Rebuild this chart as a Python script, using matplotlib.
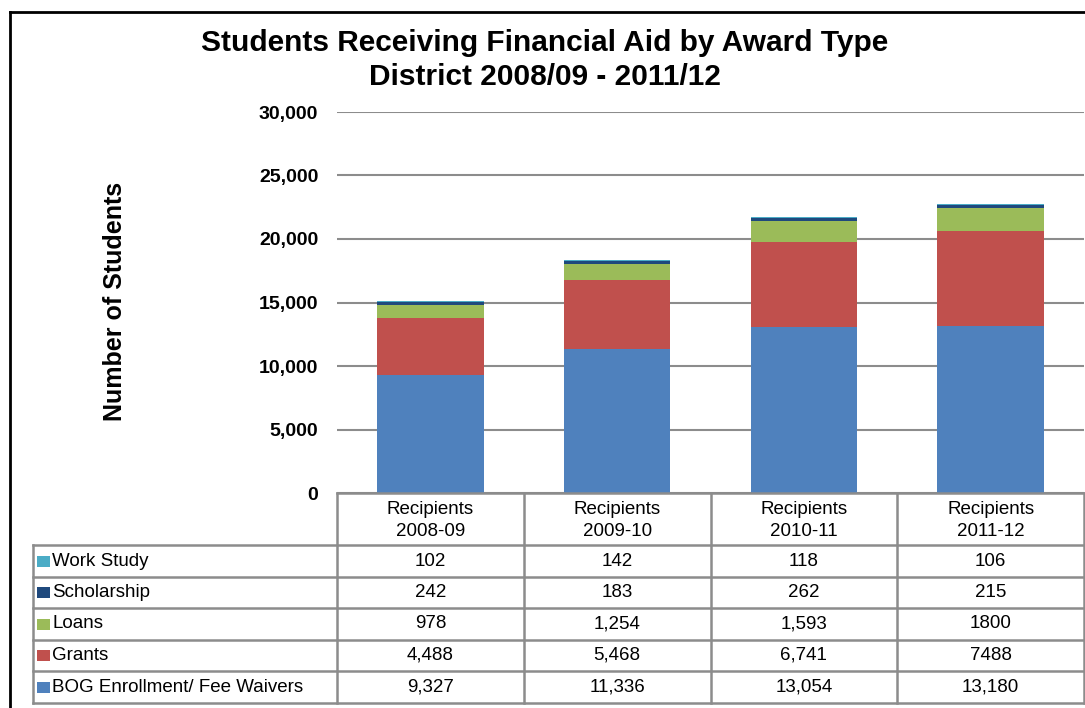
import matplotlib
matplotlib.use("Agg")
import matplotlib.pyplot as plt
from matplotlib.patches import Rectangle
import numpy as np

plt.rcParams['font.family'] = ['Liberation Sans', 'DejaVu Sans']

categories = ["Recipients\n2008-09", "Recipients\n2009-10", "Recipients\n2010-11", "Recipients\n2011-12"]
series_names = ["Work Study", "Scholarship", "Loans", "Grants", "BOG Enrollment/ Fee Waivers"]
work_study = [102, 142, 118, 106]
scholarship = [242, 183, 262, 215]
loans = [978, 1254, 1593, 1800]
grants = [4488, 5468, 6741, 7488]
bog = [9327, 11336, 13054, 13180]
yticks = [0, 5000, 10000, 15000, 20000, 25000, 30000]
# cells shown without thousands separator in the source table (row, col)
no_comma = {(2, 3), (3, 3)}

colors = {"Work Study": "#4BACC6", "Scholarship": "#1F497D", "Loans": "#9BBB59",
          "Grants": "#C0504D", "BOG Enrollment/ Fee Waivers": "#4F81BD"}
series_vals = {"Work Study": work_study, "Scholarship": scholarship, "Loans": loans,
               "Grants": grants, "BOG Enrollment/ Fee Waivers": bog}

W, H = 1085, 708
fig = plt.figure(figsize=(W / 100, H / 100), dpi=100)

# pixel geometry
ax_l, ax_r, ax_t, ax_b = 337, 1084, 112, 493
ax = fig.add_axes([ax_l / W, 1 - ax_b / H, (ax_r - ax_l) / W, (ax_b - ax_t) / H])

x = np.arange(len(categories))
bottom = np.zeros(len(categories))
for name in ["BOG Enrollment/ Fee Waivers", "Grants", "Loans", "Scholarship", "Work Study"]:
    vals = np.array(series_vals[name], dtype=float)
    ax.bar(x, vals, bottom=bottom, width=0.57, color=colors[name], zorder=3, linewidth=0)
    bottom += vals

ax.set_xlim(-0.5, len(categories) - 0.5)
ax.set_ylim(0, 30000)
ax.set_yticks(yticks)
ax.set_yticklabels([f"{v:,}" for v in yticks], fontsize=14, fontweight='bold')
ax.tick_params(axis='y', length=0, pad=13.5)
ax.set_xticks([])
ax.grid(axis='y', color='#8c8c8c', linewidth=1.5, zorder=0)
for s in ax.spines.values():
    s.set_visible(False)

# overlay in pixel coords
ov = fig.add_axes([0, 0, 1, 1], zorder=5)
ov.set_xlim(0, W)
ov.set_ylim(H, 0)
ov.axis('off')

# y label
ov.text(115, 301, "Number of Students", rotation=90, ha='center', va='center',
        fontsize=18, fontweight='bold')

# outer frame
ov.plot([10, 10], [12, H + 5], color='black', lw=2)
ov.plot([10, W + 5], [12, 12], color='black', lw=2)

# title
ov.text(545, 43, "Students Receiving Financial Aid by Award Type", ha='center', va='center',
        fontsize=21.5, fontweight='bold')
ov.text(545, 77, "District 2008/09 - 2011/12", ha='center', va='center',
        fontsize=21.5, fontweight='bold')

# table
gc = '#8c8c8c'
lw = 1.8
col_edges = [ax_l + i * (ax_r - ax_l) / 4 for i in range(5)]
row_edges = [545, 577, 608, 640, 671, 703]
left_edge = 33
ov.plot([ax_l, ax_r], [493, 493], color=gc, lw=lw)
for xe in col_edges:
    ov.plot([xe, xe], [493, row_edges[-1]], color=gc, lw=lw)
for ye in row_edges:
    ov.plot([left_edge, ax_r], [ye, ye], color=gc, lw=lw)
ov.plot([left_edge, left_edge], [row_edges[0], row_edges[-1]], color=gc, lw=lw)

fs = 13.5
for j, cat in enumerate(categories):
    cx = (col_edges[j] + col_edges[j + 1]) / 2
    l1, l2 = cat.split("\n")
    ov.text(cx, 509, l1, ha='center', va='center', fontsize=fs)
    ov.text(cx, 531, l2, ha='center', va='center', fontsize=fs)

for i, name in enumerate(series_names):
    cy = (row_edges[i] + row_edges[i + 1]) / 2
    ov.add_patch(Rectangle((37, cy - 5.5), 13, 11, color=colors[name], lw=0))
    ov.text(52, cy, name, ha='left', va='center', fontsize=fs)
    for j, v in enumerate(series_vals[name]):
        cx = (col_edges[j] + col_edges[j + 1]) / 2
        txt = str(v) if (i, j) in no_comma else f"{v:,}"
        ov.text(cx, cy, txt, ha='center', va='center', fontsize=fs)

fig.savefig("out.png", dpi=100)
